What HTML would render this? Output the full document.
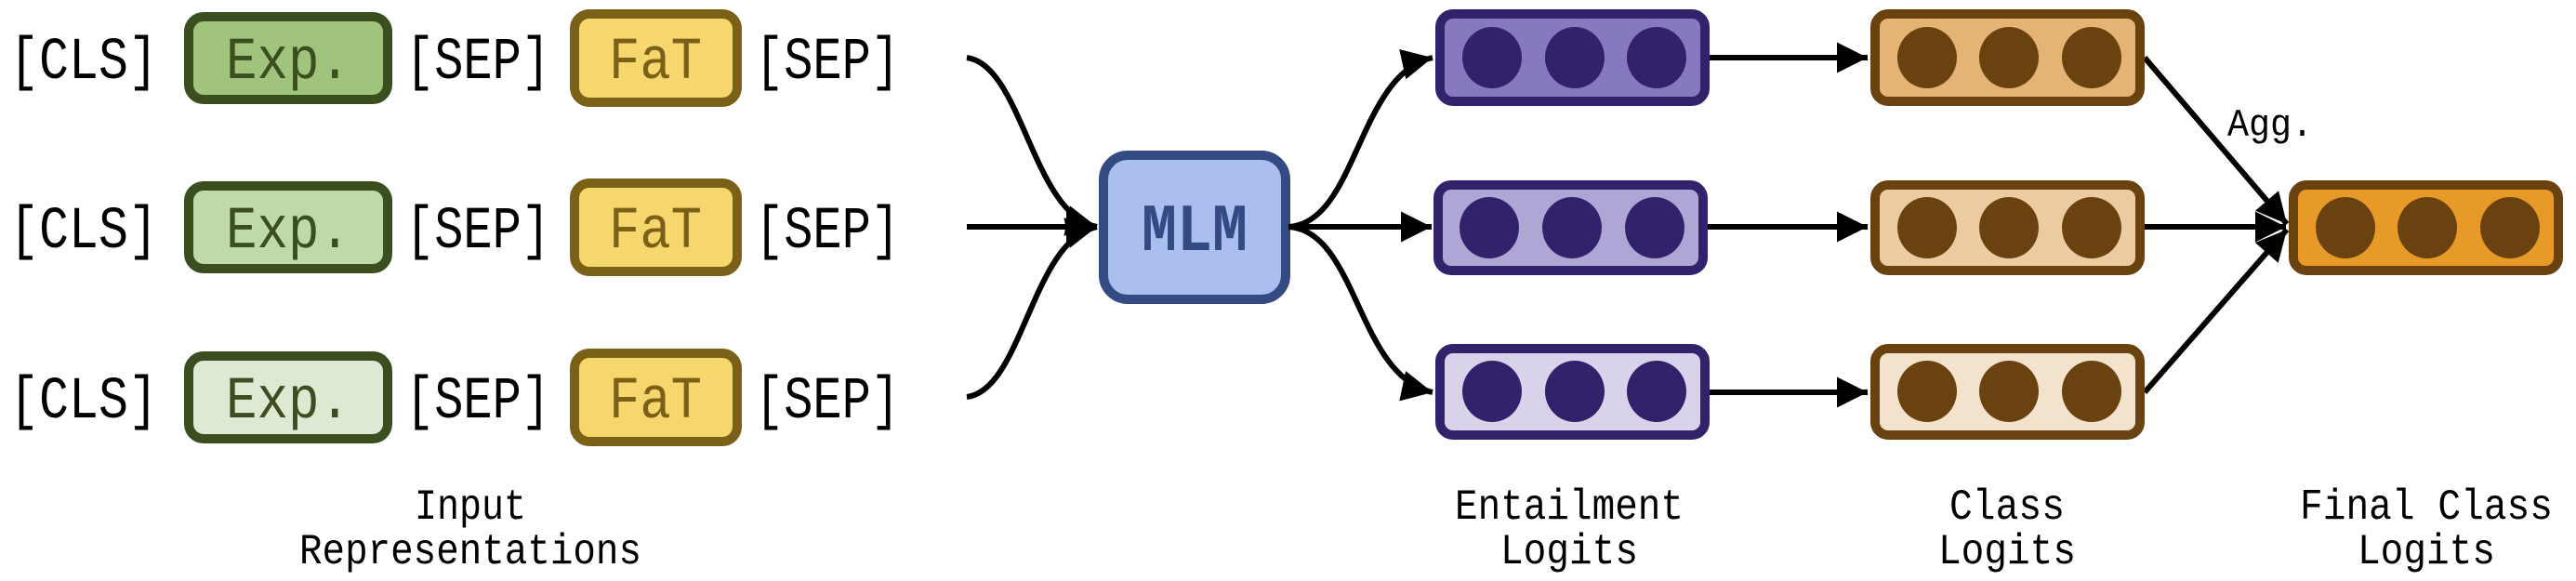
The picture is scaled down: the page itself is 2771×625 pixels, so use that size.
<!DOCTYPE html>
<html><head><meta charset="utf-8"><style>
html,body{margin:0;padding:0;background:#fff;}
svg{display:block;}
text{font-family:"Liberation Mono","DejaVu Sans Mono",monospace;}
</style></head><body>
<svg width="2771" height="625" viewBox="0 0 2771 625" xmlns="http://www.w3.org/2000/svg">
<defs>
<marker id="ah" viewBox="0 0 10 10" refX="10" refY="5" markerWidth="6" markerHeight="5.5" markerUnits="strokeWidth" orient="auto">
<path d="M0,0 L10,5 L0,10 z" fill="#000"/></marker>
</defs>
<g font-size="64" fill="#000">
<g>
<text x="10" y="84" textLength="160" lengthAdjust="spacingAndGlyphs">[CLS]</text>
<rect x="203" y="18" width="214" height="89" rx="16" fill="#a0c47c" stroke="#3a4e1f" stroke-width="10"/>
<text x="310" y="84" text-anchor="middle" fill="#3a4e1f" textLength="134" lengthAdjust="spacingAndGlyphs">Exp.</text>
<text x="436" y="84" textLength="156" lengthAdjust="spacingAndGlyphs">[SEP]</text>
<rect x="618" y="15" width="175" height="95" rx="16" fill="#f5d76e" stroke="#7a6117" stroke-width="10"/>
<text x="705" y="84" text-anchor="middle" fill="#7a6117" textLength="100" lengthAdjust="spacingAndGlyphs">FaT</text>
<text x="812" y="84" textLength="156" lengthAdjust="spacingAndGlyphs">[SEP]</text>
</g>
<g>
<text x="10" y="266" textLength="160" lengthAdjust="spacingAndGlyphs">[CLS]</text>
<rect x="203" y="200" width="214" height="89" rx="16" fill="#bfd9a8" stroke="#3a4e1f" stroke-width="10"/>
<text x="310" y="266" text-anchor="middle" fill="#3a4e1f" textLength="134" lengthAdjust="spacingAndGlyphs">Exp.</text>
<text x="436" y="266" textLength="156" lengthAdjust="spacingAndGlyphs">[SEP]</text>
<rect x="618" y="197" width="175" height="95" rx="16" fill="#f5d76e" stroke="#7a6117" stroke-width="10"/>
<text x="705" y="266" text-anchor="middle" fill="#7a6117" textLength="100" lengthAdjust="spacingAndGlyphs">FaT</text>
<text x="812" y="266" textLength="156" lengthAdjust="spacingAndGlyphs">[SEP]</text>
</g>
<g>
<text x="10" y="449" textLength="160" lengthAdjust="spacingAndGlyphs">[CLS]</text>
<rect x="203" y="383" width="214" height="89" rx="16" fill="#dde9d3" stroke="#3a4e1f" stroke-width="10"/>
<text x="310" y="449" text-anchor="middle" fill="#3a4e1f" textLength="134" lengthAdjust="spacingAndGlyphs">Exp.</text>
<text x="436" y="449" textLength="156" lengthAdjust="spacingAndGlyphs">[SEP]</text>
<rect x="618" y="380" width="175" height="95" rx="16" fill="#f5d76e" stroke="#7a6117" stroke-width="10"/>
<text x="705" y="449" text-anchor="middle" fill="#7a6117" textLength="100" lengthAdjust="spacingAndGlyphs">FaT</text>
<text x="812" y="449" textLength="156" lengthAdjust="spacingAndGlyphs">[SEP]</text>
</g>
</g>

<g fill="none" stroke="#000" stroke-width="6">
<path d="M1040,62 C1100,70 1110,230 1180,244" marker-end="url(#ah)"/>
<path d="M1040,244 L1180,244" marker-end="url(#ah)"/>
<path d="M1040,427 C1100,420 1110,258 1180,244" marker-end="url(#ah)"/>
</g>

<rect x="1187" y="167" width="196" height="155" rx="26" fill="#aabff0" stroke="#334a82" stroke-width="10"/>
<text x="1285" y="269" text-anchor="middle" font-size="72" font-weight="bold" fill="#334a82" textLength="114" lengthAdjust="spacingAndGlyphs">MLM</text>

<g fill="none" stroke="#000" stroke-width="6">
<path d="M1386,244 C1460,240 1460,80 1541,62" marker-end="url(#ah)"/>
<path d="M1386,244 L1540,244" marker-end="url(#ah)"/>
<path d="M1386,244 C1460,248 1460,405 1541,422" marker-end="url(#ah)"/>
<path d="M1839,62 L2009,62" marker-end="url(#ah)"/>
<path d="M1837,244 L2009,244" marker-end="url(#ah)"/>
<path d="M1839,422 L2009,422" marker-end="url(#ah)"/>
<path d="M2307,62 L2460,241" marker-end="url(#ah)"/>
<path d="M2307,244 L2459,244" marker-end="url(#ah)"/>
<path d="M2307,422 L2460,247" marker-end="url(#ah)"/>
</g>

<g stroke="#32226b" stroke-width="10">
<rect x="1549" y="15" width="285" height="94" rx="14" fill="#8779be"/>
<rect x="1547" y="199" width="285" height="92" rx="14" fill="#aea6d4"/>
<rect x="1549" y="375" width="285" height="93" rx="14" fill="#d8d3ea"/>
</g>
<g fill="#32226b">
<ellipse cx="1605" cy="62" rx="32" ry="33"/><ellipse cx="1694" cy="62" rx="32" ry="33"/><ellipse cx="1782" cy="62" rx="32" ry="33"/>
<ellipse cx="1602" cy="245" rx="32" ry="33"/><ellipse cx="1691" cy="245" rx="32" ry="33"/><ellipse cx="1780" cy="245" rx="32" ry="33"/>
<ellipse cx="1605" cy="421" rx="32" ry="33"/><ellipse cx="1694" cy="421" rx="32" ry="33"/><ellipse cx="1782" cy="421" rx="32" ry="33"/>
</g>

<g stroke="#6a4210" stroke-width="10">
<rect x="2017" y="15" width="285" height="94" rx="14" fill="#e5b475"/>
<rect x="2017" y="199" width="285" height="92" rx="14" fill="#eccba0"/>
<rect x="2017" y="375" width="285" height="93" rx="14" fill="#f4e3cc"/>
<rect x="2467" y="199" width="285" height="92" rx="14" fill="#e79a28"/>
</g>
<g fill="#6a4210">
<ellipse cx="2073" cy="62" rx="32" ry="33"/><ellipse cx="2161" cy="62" rx="32" ry="33"/><ellipse cx="2250" cy="62" rx="32" ry="33"/>
<ellipse cx="2073" cy="245" rx="32" ry="33"/><ellipse cx="2161" cy="245" rx="32" ry="33"/><ellipse cx="2250" cy="245" rx="32" ry="33"/>
<ellipse cx="2073" cy="421" rx="32" ry="33"/><ellipse cx="2161" cy="421" rx="32" ry="33"/><ellipse cx="2250" cy="421" rx="32" ry="33"/>
<ellipse cx="2523" cy="245" rx="32" ry="33"/><ellipse cx="2611" cy="245" rx="32" ry="33"/><ellipse cx="2700" cy="245" rx="32" ry="33"/>
</g>

<text x="2396" y="146" font-size="42" fill="#000" textLength="92" lengthAdjust="spacingAndGlyphs">Agg.</text>

<g font-size="46" fill="#000" text-anchor="middle">
<text x="506" y="558" textLength="120" lengthAdjust="spacingAndGlyphs">Input</text>
<text x="506" y="606" textLength="368" lengthAdjust="spacingAndGlyphs">Representations</text>
<text x="1688" y="558" textLength="246" lengthAdjust="spacingAndGlyphs">Entailment</text>
<text x="1688" y="606" textLength="148" lengthAdjust="spacingAndGlyphs">Logits</text>
<text x="2159" y="558" textLength="124" lengthAdjust="spacingAndGlyphs">Class</text>
<text x="2159" y="606" textLength="148" lengthAdjust="spacingAndGlyphs">Logits</text>
<text x="2610" y="558" textLength="272" lengthAdjust="spacingAndGlyphs">Final Class</text>
<text x="2610" y="606" textLength="148" lengthAdjust="spacingAndGlyphs">Logits</text>
</g>
</svg>
</body></html>
